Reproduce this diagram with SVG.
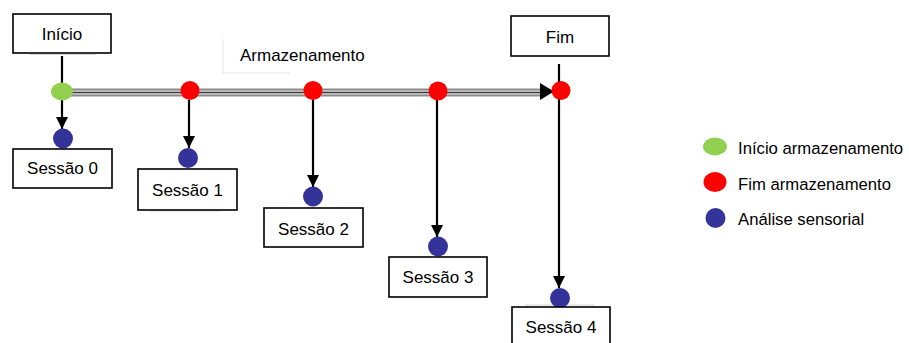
<svg xmlns="http://www.w3.org/2000/svg" width="909" height="343" viewBox="0 0 909 343">
  <style>
    .box { fill: #ffffff; stroke: #000000; stroke-width: 1.6; }
    .lbl { font-family: "Liberation Sans", Arial, sans-serif; font-size: 17px; fill: #000000; }
    .leg { font-family: "Liberation Sans", Arial, sans-serif; font-size: 16.7px; fill: #000000; }
    .drop { stroke: #000000; stroke-width: 2.2; fill: none; marker-end: url(#tri); }
    .edge { stroke: #d4d4d4; stroke-width: 1.2; }
    .faint { stroke: #e6e6e6; stroke-width: 1; }
    .start { fill: #92d050; }
    .end { fill: #ff0000; }
    .sens { fill: #333399; }
  </style>
  <defs>
    <marker id="tri" viewBox="0 0 10 10" refX="10" refY="5" markerWidth="13" markerHeight="12" markerUnits="userSpaceOnUse" orient="auto">
      <path d="M0,0 L10,5 L0,10 Z" fill="#000000"/>
    </marker>
  </defs>

  <!-- faint frame edges of the caption and boxes -->
  <g id="frame-edges">
    <line class="faint" x1="223" y1="39" x2="223" y2="73"/>
    <line class="faint" x1="223" y1="73" x2="290" y2="73"/>
    <line class="edge" x1="30" y1="54.5" x2="96" y2="54.5"/>
    <line class="edge" x1="150" y1="211" x2="220" y2="211"/>
    <line class="edge" x1="525" y1="305" x2="594" y2="305"/>
  </g>

  <!-- connectors -->
  <g id="connectors">
    <!-- storage timeline -->
    <line x1="62" y1="92.5" x2="542" y2="92.5" stroke="#8a8a8a" stroke-width="8"/>
    <line x1="62" y1="92.5" x2="542" y2="92.5" stroke="#e2e2e2" stroke-width="4"/>
    <line x1="62" y1="92.5" x2="542" y2="92.5" stroke="#3a3a3a" stroke-width="1.3"/>
    <path d="M540,83 L554,91.5 L540,100 Z" fill="#000000"/>
    <!-- drops to the sensory sessions -->
    <line class="drop" x1="62" y1="56" x2="62" y2="129"/>
    <line class="drop" x1="189" y1="100" x2="189" y2="148"/>
    <line class="drop" x1="313" y1="100" x2="313" y2="187"/>
    <line class="drop" x1="437" y1="100" x2="437" y2="237"/>
    <line class="drop" x1="559" y1="64" x2="559" y2="288"/>
  </g>

  <g id="inicio">
    <rect class="box" x="13" y="14" width="98" height="39"/>
    <text class="lbl" x="62" y="39.5" text-anchor="middle">Início</text>
  </g>
  <g id="fim">
    <rect class="box" x="511" y="16" width="98" height="40"/>
    <text class="lbl" x="560" y="42.5" text-anchor="middle">Fim</text>
  </g>
  <g id="armazenamento">
    <text class="lbl" x="240" y="60.5">Armazenamento</text>
  </g>

  <!-- timeline points -->
  <g id="p0"><ellipse class="start" cx="62" cy="91.5" rx="11" ry="9"/></g>
  <g id="p1"><ellipse class="end" cx="190" cy="90.5" rx="9.5" ry="9.5"/></g>
  <g id="p2"><ellipse class="end" cx="313" cy="90.5" rx="9.5" ry="9.5"/></g>
  <g id="p3"><ellipse class="end" cx="438" cy="91" rx="9.5" ry="9.5"/></g>
  <g id="p4"><ellipse class="end" cx="561" cy="90.5" rx="9.5" ry="9.5"/></g>

  <!-- sensory sessions -->
  <g id="sessao0">
    <circle class="sens" cx="63" cy="138.5" r="10"/>
    <rect class="box" x="13" y="149" width="99" height="39"/>
    <text class="lbl" x="62.5" y="174" text-anchor="middle">Sessão 0</text>
  </g>
  <g id="sessao1">
    <circle class="sens" cx="188" cy="158" r="10"/>
    <rect class="box" x="138" y="169" width="99" height="41"/>
    <text class="lbl" x="187.5" y="196" text-anchor="middle">Sessão 1</text>
  </g>
  <g id="sessao2">
    <circle class="sens" cx="313" cy="196.5" r="10"/>
    <rect class="box" x="264" y="208" width="99" height="39"/>
    <text class="lbl" x="313.5" y="234.5" text-anchor="middle">Sessão 2</text>
  </g>
  <g id="sessao3">
    <circle class="sens" cx="438" cy="246.5" r="10"/>
    <rect class="box" x="389" y="257" width="98" height="40"/>
    <text class="lbl" x="438" y="283" text-anchor="middle">Sessão 3</text>
  </g>
  <g id="sessao4">
    <circle class="sens" cx="560" cy="298" r="10"/>
    <rect class="box" x="512" y="307" width="98" height="40"/>
    <text class="lbl" x="561" y="333" text-anchor="middle">Sessão 4</text>
  </g>

  <!-- legend -->
  <g id="legend">
    <ellipse class="start" cx="715" cy="146.5" rx="12" ry="9"/>
    <text class="leg" x="738" y="154">Início armazenamento</text>
    <ellipse class="end" cx="715" cy="182" rx="11.5" ry="10"/>
    <text class="leg" x="738" y="189.5">Fim armazenamento</text>
    <circle class="sens" cx="715.5" cy="218" r="10"/>
    <text class="leg" x="738" y="225">Análise sensorial</text>
  </g>
</svg>
